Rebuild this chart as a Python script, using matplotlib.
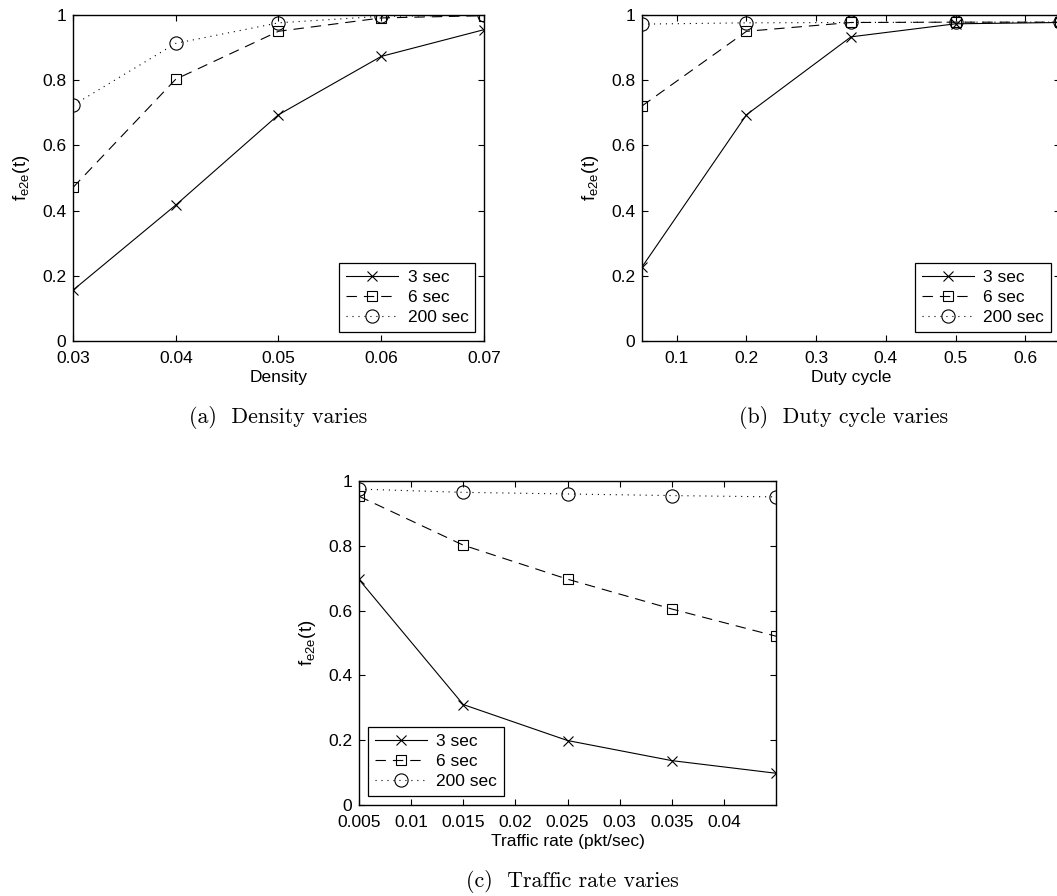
import matplotlib
matplotlib.use("Agg")
import matplotlib.pyplot as plt
from matplotlib.ticker import FuncFormatter

# data
labels = ["3 sec", "6 sec", "200 sec"]

density = [0.03, 0.04, 0.05, 0.06, 0.07]
dens_3 = [0.156, 0.417, 0.694, 0.873, 0.955]
dens_6 = [0.471, 0.803, 0.950, 0.991, 0.998]
dens_200 = [0.723, 0.913, 0.976, 0.996, 0.999]

duty = [0.05, 0.2, 0.35, 0.5, 0.65]
duty_3 = [0.227, 0.694, 0.933, 0.973, 0.977]
duty_6 = [0.721, 0.950, 0.977, 0.978, 0.978]
duty_200 = [0.972, 0.976, 0.977, 0.978, 0.978]

rate = [0.005, 0.015, 0.025, 0.035, 0.045]
rate_3 = [0.696, 0.310, 0.199, 0.137, 0.098]
rate_6 = [0.953, 0.802, 0.697, 0.605, 0.521]
rate_200 = [0.975, 0.965, 0.960, 0.955, 0.951]

plt.rcParams["font.family"] = ["Liberation Sans", "DejaVu Sans"]
plt.rcParams["font.size"] = 12.5
plt.rcParams["lines.scale_dashes"] = False
plt.rcParams["mathtext.fontset"] = "custom"
plt.rcParams["mathtext.rm"] = "Liberation Sans"
plt.rcParams["mathtext.it"] = "Liberation Sans"

W, H = 1057, 896
fig = plt.figure(figsize=(W / 100, H / 100), dpi=100)


def box(l, t, r, b):
    return [l / W, 1 - b / H, (r - l) / W, (b - t) / H]


def panel(rect, x, s3, s6, s200, xlim, xticks, xlabel, leg_loc):
    ax = fig.add_axes(rect)
    ax.plot(x, s3, color="k", lw=0.8, ls="-", marker="x", ms=7, mew=0.8, label=labels[0])
    ax.plot(x, s6, color="k", lw=0.8, ls=(0, (7.5, 5)), marker="s", ms=7.5, mew=0.8,
            mfc="none", label=labels[1])
    ax.plot(x, s200, color="k", lw=0.8, ls=(0, (0.8, 3.5)), marker="o", ms=9.5, mew=0.8,
            mfc="none", label=labels[2])
    ax.set_xlim(xlim)
    ax.set_ylim(0, 1)
    ax.set_xticks(xticks)
    ax.set_yticks([0, 0.2, 0.4, 0.6, 0.8, 1])
    ax.xaxis.set_major_formatter(FuncFormatter(lambda v, p: "%g" % v))
    ax.yaxis.set_major_formatter(FuncFormatter(lambda v, p: "%g" % v))
    ax.tick_params(direction="in", top=True, right=True, length=4, width=0.8,
                   labelsize=12.5)
    ax.tick_params(axis="x", pad=7)
    ax.tick_params(axis="y", pad=5)
    for sp in ax.spines.values():
        sp.set_linewidth(1.0)
    ax.set_xlabel(xlabel, fontsize=12.5, labelpad=3)
    ax.set_ylabel(r"$\mathrm{f_{e2e}(t)}$", fontsize=13.5, labelpad=7)
    leg = ax.legend(loc=leg_loc, fancybox=False, edgecolor="k", framealpha=1,
                    handlelength=3.0, handletextpad=0.55, borderpad=0.4,
                    labelspacing=0.3, fontsize=12.5, borderaxespad=0.5)
    leg.get_frame().set_linewidth(0.9)
    return ax


panel(box(73, 15, 484, 341), density, dens_3, dens_6, dens_200,
      (0.03, 0.07), [0.03, 0.04, 0.05, 0.06, 0.07], "Density", "lower right")
panel(box(642, 15, 1060, 341), duty, duty_3, duty_6, duty_200,
      (0.05, 0.65), [0.1, 0.2, 0.3, 0.4, 0.5, 0.6], "Duty cycle", "lower right")
panel(box(359, 481, 776, 805), rate, rate_3, rate_6, rate_200,
      (0.005, 0.045), [0.005, 0.01, 0.015, 0.02, 0.025, 0.03, 0.035, 0.04],
      "Traffic rate (pkt/sec)", "lower left")

cap = dict(ha="center", va="center", fontsize=15.8, family=["cmr10", "DejaVu Serif"])
fig.text(278 / W, 1 - 417 / H, "(a)  Density varies", **cap)
fig.text(844 / W, 1 - 417 / H, "(b)  Duty cycle varies", **cap)
fig.text(572 / W, 1 - 881 / H, "(c)  Traffic rate varies", **cap)

fig.savefig("out.png", dpi=100)
